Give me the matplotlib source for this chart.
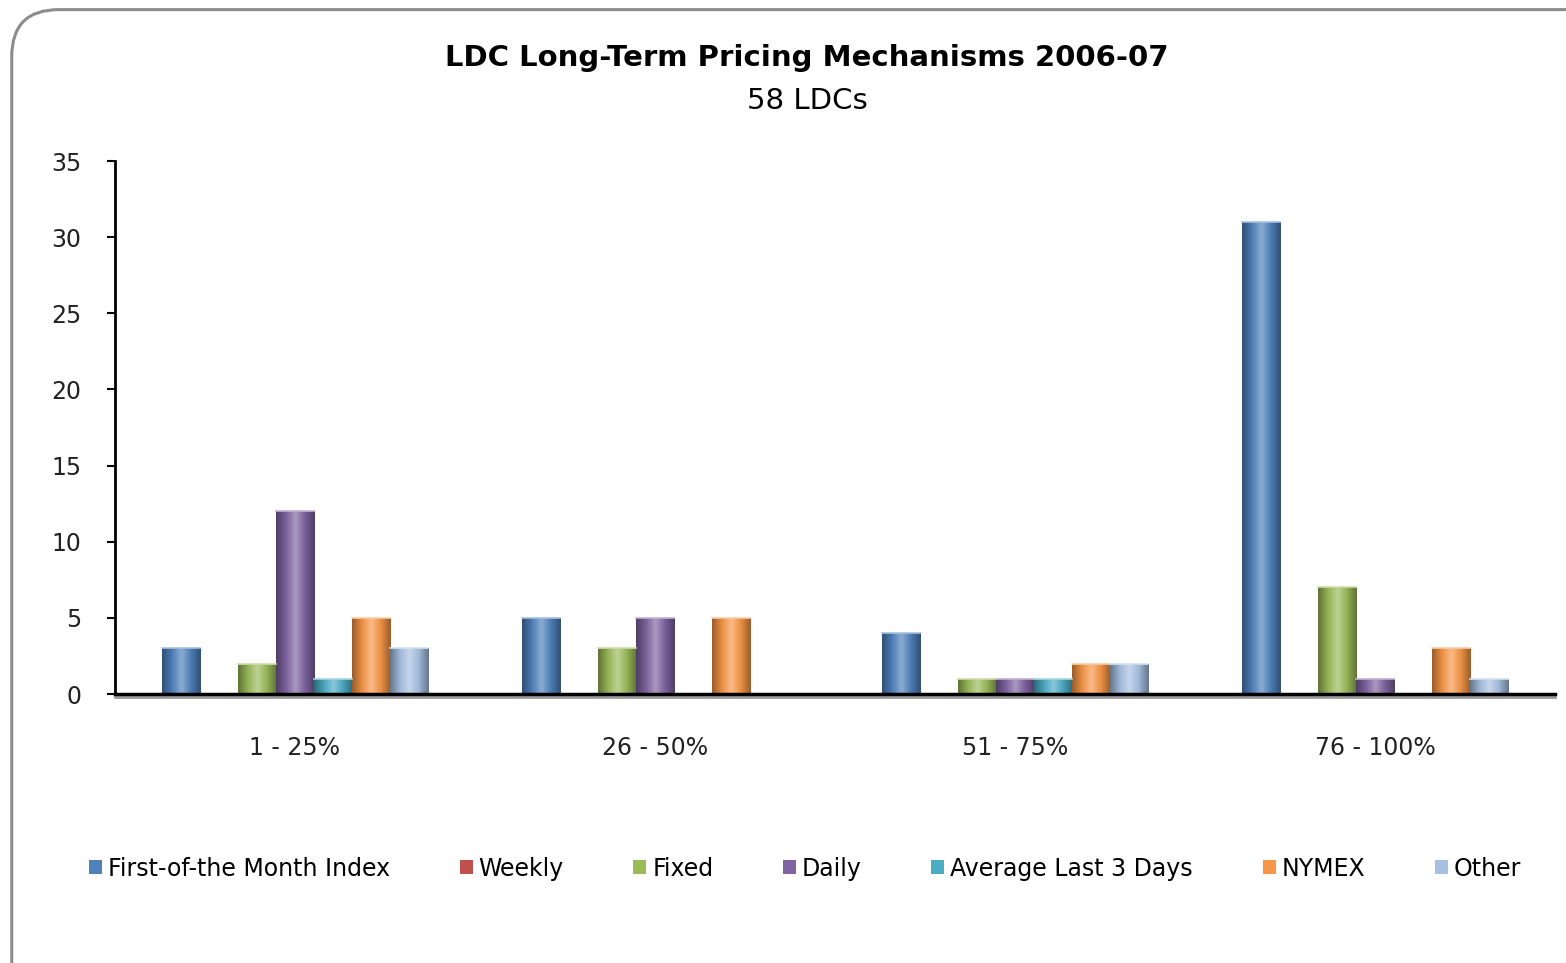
import numpy as np
import matplotlib
matplotlib.use("Agg")
import matplotlib.pyplot as plt
from matplotlib.patches import FancyBboxPatch
from matplotlib.colors import LinearSegmentedColormap, to_rgb

categories = ["1 - 25%", "26 - 50%", "51 - 75%", "76 - 100%"]
series_names = ["First-of-the Month Index", "Weekly", "Fixed", "Daily",
                "Average Last 3 Days", "NYMEX", "Other"]
first_of_month = [3, 5, 4, 31]
weekly = [0, 0, 0, 0]
fixed = [2, 3, 1, 7]
daily = [12, 5, 1, 1]
avg_last_3 = [1, 0, 1, 0]
nymex = [5, 5, 2, 3]
other = [3, 0, 2, 1]
series_values = [first_of_month, weekly, fixed, daily, avg_last_3, nymex, other]
colors = ["#4F81BD", "#C0504D", "#9BBB59", "#8064A2", "#4BACC6", "#F79646", "#A7C0E2"]
yticks = [0, 5, 10, 15, 20, 25, 30, 35]

plt.rcParams['font.family'] = ['DejaVu Sans']
fig = plt.figure(figsize=(15.66, 9.63), dpi=100)

# rounded chart frame
frame = FancyBboxPatch((0.0075, -0.05), 1.04, 1.04, boxstyle="round,pad=0,rounding_size=0.03",
                       transform=fig.transFigure, facecolor="white", edgecolor="#8c8c8c",
                       linewidth=2.2, mutation_aspect=1566/963, zorder=-10)
fig.patches.append(frame)

ax = fig.add_axes([0.0734, 0.2793, 0.9196, 0.5535])
ax.set_zorder(2)
ax.set_facecolor("none")

n = len(series_names)
width = 0.1056
x = np.arange(len(categories))

def shade(c, f):
    r, g, b = to_rgb(c)
    if f < 1:
        return (r * f, g * f, b * f)
    return (r + (1 - r) * (f - 1), g + (1 - g) * (f - 1), b + (1 - b) * (f - 1))

for i, (name, vals, c) in enumerate(zip(series_names, series_values, colors)):
    offs = (i - (n - 1) / 2) * width
    bars = ax.bar(x + offs, vals, width=width, color=c, label=name,
                  edgecolor="none", zorder=3)
    cmap = LinearSegmentedColormap.from_list(
        "g%d" % i, [shade(c, 0.62), shade(c, 0.95), shade(c, 1.35),
                    shade(c, 0.95), shade(c, 0.62)])
    grad = np.linspace(0, 1, 64).reshape(1, -1)
    for b in bars:
        h = b.get_height()
        if h <= 0:
            continue
        x0 = b.get_x()
        im = ax.imshow(grad, cmap=cmap, aspect="auto", interpolation="bicubic",
                       extent=(x0, x0 + b.get_width(), 0, h), zorder=4)
        im.set_clip_path(b)
        ax.plot([x0, x0 + b.get_width()], [h, h], color=shade(c, 1.5), lw=1.2, zorder=5)

ax.set_xlim(-0.5, 3.5)
ax.set_ylim(0, 35)
ax.set_yticks(yticks)
ax.set_yticklabels([str(v) for v in yticks], fontsize=17)
ax.set_xticks(x)
ax.set_xticklabels(categories, fontsize=17)
ax.tick_params(axis="y", direction="out", length=6, width=1.5, pad=18, colors="black",
               labelcolor="#222222")
ax.tick_params(axis="x", length=0, pad=30, labelcolor="#222222")
for s in ["top", "right"]:
    ax.spines[s].set_visible(False)
ax.spines["left"].set_linewidth(2)
ax.spines["bottom"].set_linewidth(2.5)
ax.spines["bottom"].set_zorder(6)
ax.axhline(-0.18, color="#9a9a9a", lw=2, zorder=2, clip_on=False)

fig.text(0.5155, 0.94, "LDC Long-Term Pricing Mechanisms 2006-07", ha="center", va="center",
         fontsize=21, fontweight="bold", color="black")
fig.text(0.5155, 0.895, "58 LDCs", ha="center", va="center", fontsize=21, color="black")

handles, labels = ax.get_legend_handles_labels()
leg = fig.legend(handles, labels, loc="center", bbox_to_anchor=(0.514, 0.098), ncol=7,
                 frameon=False, fontsize=17, handlelength=0.55, handleheight=0.55,
                 handletextpad=0.25, columnspacing=2.95)

fig.savefig("out.png", dpi=100)
